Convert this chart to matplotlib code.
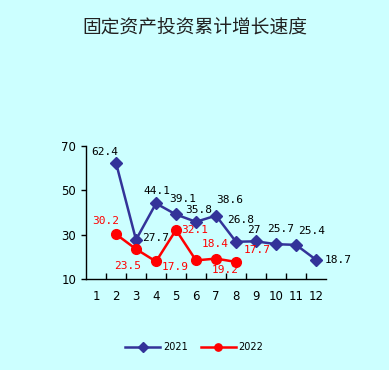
import matplotlib
matplotlib.use("Agg")
import matplotlib.pyplot as plt

# datos
meses = list(range(1, 13))
meses_2021 = [2, 3, 4, 5, 6, 7, 8, 9, 10, 11, 12]
valores_2021 = [62.4, 27.7, 44.1, 39.1, 35.8, 38.6, 26.8, 27, 25.7, 25.4, 18.7]
meses_2022 = [2, 3, 4, 5, 6, 7, 8]
valores_2022 = [30.2, 23.5, 17.9, 32.1, 18.4, 19.2, 17.7]
etiquetas_y = [10, 30, 50, 70]
titulo = "固定资产投资累计增长速度"

# desplazamientos de las etiquetas (en pixeles, se pasan a puntos abajo)
off_2021 = [(-11, 11), (20, 2), (1, 12), (7, 15), (3, 12), (14, 16), (5, 22), (-2, 11), (5, 15), (16, 14), (22, 0)]
off_2022 = [(-10, 13), (-8, -17), (19, -6), (19, 0), (19, 16), (9, -11), (21, 12)]

bg = "#CCFFFF"
azul = "#333399"
rojo = "#FF0000"

fig = plt.figure(figsize=(3.89, 3.70), dpi=100, facecolor=bg)
ax = fig.add_axes([86 / 389, 1 - 279 / 370, 240 / 389, 133 / 370])
ax.set_facecolor(bg)

l1, = ax.plot(meses_2021, valores_2021, color=azul, lw=1.8, marker="D", ms=6.5, label="2021")
l2, = ax.plot(meses_2022, valores_2022, color=rojo, lw=1.8, marker="o", ms=7, label="2022")

for x, y, o in zip(meses_2021, valores_2021, off_2021):
    ax.annotate(f"{y:g}", (x, y), xytext=(o[0] * 0.72, o[1] * 0.72), textcoords="offset points",
                ha="center", va="center", fontsize=8, family="DejaVu Sans Mono", color="black")
for x, y, o in zip(meses_2022, valores_2022, off_2022):
    ax.annotate(f"{y:g}", (x, y), xytext=(o[0] * 0.72, o[1] * 0.72), textcoords="offset points",
                ha="center", va="center", fontsize=8, family="DejaVu Sans Mono", color=rojo)

ax.set_xlim(0.5, 12.5)
ax.set_ylim(10, 70)
ax.set_yticks(etiquetas_y)
ax.set_xticks(meses)
ax.set_xticks([m + 0.5 for m in meses[:-1]], minor=True)
ax.tick_params(axis="x", which="major", length=0, labelsize=8.5, pad=8)
ax.tick_params(axis="x", which="minor", length=4.3, direction="in", width=1)
ax.tick_params(axis="y", length=3.5, direction="out", width=1, labelsize=8.5, pad=3.5)
ax.spines["top"].set_visible(False)
ax.spines["right"].set_visible(False)
for s in ("left", "bottom"):
    ax.spines[s].set_color("black")
    ax.spines[s].set_linewidth(1)

fig.text(0.5, 1 - 27 / 370, titulo, ha="center", va="center", fontsize=13.5,
         family=["Noto Sans CJK SC", "DejaVu Sans"], color="#222222")

fig.legend(handles=[l1, l2], loc="center", bbox_to_anchor=(0.5, 1 - 347 / 370), ncol=2,
           frameon=False, fontsize=7, handlelength=3.6, handletextpad=0.3,
           columnspacing=1.3, markerscale=0.75)

fig.savefig("out.png", dpi=100, facecolor=bg)
